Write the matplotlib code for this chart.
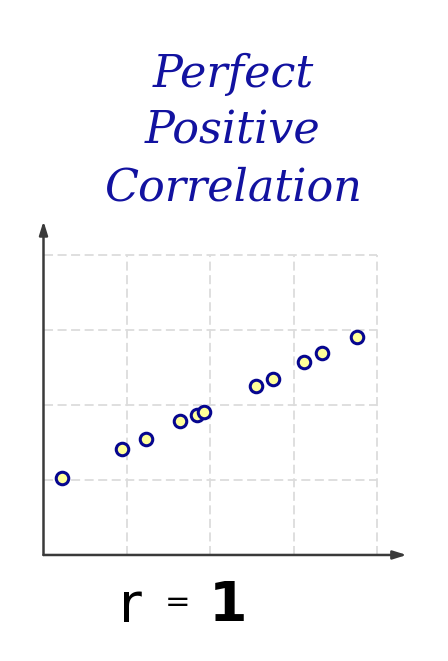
import matplotlib.pyplot as plt

# === Data (in grid units) ===
x_vals = [0.22, 0.94, 1.23, 1.64, 1.84, 1.92, 2.55, 2.75, 3.12, 3.34, 3.76]
y_vals = [1.03, 1.41, 1.55, 1.78, 1.86, 1.91, 2.25, 2.35, 2.57, 2.69, 2.90]
grid_ticks = [1, 2, 3, 4]
title_lines = ["Perfect", "Positive", "Correlation"]

TITLE_COLOR = '#1212a0'
AXIS_COLOR = '#3a3a3a'

fig = plt.figure(figsize=(4.48, 6.61), dpi=100)
ax = fig.add_axes([0.0971, 0.1604, 0.8107, 0.505])
ax.set_xlim(0, 4.35)
ax.set_ylim(0, 4.45)
for s in ax.spines.values():
    s.set_visible(False)
ax.set_xticks([])
ax.set_yticks([])

# dashed grid
for g in grid_ticks:
    ax.plot([g, g], [0, 4], color='#dcdcdc', lw=1.3, ls=(0, (5, 2.5)), zorder=1)
    ax.plot([0, 4], [g, g], color='#dcdcdc', lw=1.3, ls=(0, (5, 2.5)), zorder=1)

# axes with arrows
arrow = dict(arrowstyle='-|>,head_length=0.8,head_width=0.25', color=AXIS_COLOR, lw=1.8,
             shrinkA=0, shrinkB=0)
ax.annotate('', xy=(4.35, 0), xytext=(0, 0), arrowprops=arrow, zorder=3)
ax.annotate('', xy=(0, 4.45), xytext=(0, 0), arrowprops=arrow, zorder=3)

# points
ax.plot(x_vals, y_vals, 'o', ms=9, mfc='#ffff99', mec='#06068f', mew=2.2, zorder=4)

# title
for i, line in enumerate(title_lines):
    fig.text(233 / 448, 1 - (74 + i * 57) / 661, line, ha='center', va='center',
             family='DejaVu Serif', style='italic', fontsize=32, color=TITLE_COLOR)

# r = 1
fig.text(130 / 448, 1 - 607 / 661, 'r', ha='center', va='center', fontsize=40, color='black')
fig.text(178 / 448, 1 - 603 / 661, '=', ha='center', va='center', fontsize=22, color='black')
fig.text(228 / 448, 1 - 606 / 661, '1', ha='center', va='center', fontsize=40,
         fontweight='bold', color='black')

plt.savefig('out.png', dpi=100)
